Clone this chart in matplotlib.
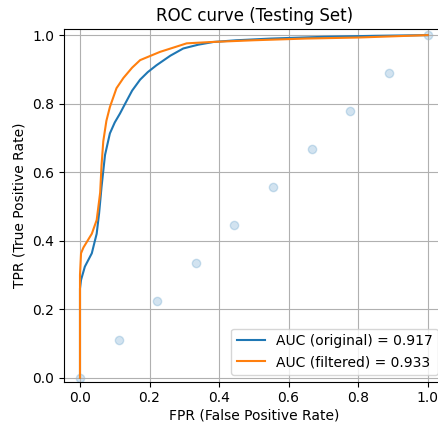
import numpy as np
import matplotlib
matplotlib.use("Agg")
import matplotlib.pyplot as plt

# ROC points
fpr_orig = [0.0, 0.0, 0.003, 0.014, 0.034, 0.043, 0.048, 0.055, 0.062, 0.072, 0.086,
            0.100, 0.115, 0.130, 0.150, 0.173, 0.195, 0.220, 0.260, 0.297, 0.340,
            0.384, 0.450, 0.550, 0.700, 0.850, 1.0]
tpr_orig = [0.0, 0.26, 0.285, 0.324, 0.363, 0.400, 0.420, 0.480, 0.557, 0.650, 0.713,
            0.745, 0.771, 0.800, 0.838, 0.870, 0.892, 0.912, 0.940, 0.961, 0.972,
            0.980, 0.985, 0.990, 0.995, 0.998, 1.0]

fpr_filt = [0.0, 0.0, 0.003, 0.010, 0.034, 0.048, 0.058, 0.062, 0.067, 0.076, 0.086,
            0.105, 0.125, 0.150, 0.173, 0.230, 0.307, 0.380, 0.500, 0.650, 0.800, 1.0]
tpr_filt = [0.0, 0.30, 0.363, 0.380, 0.420, 0.460, 0.540, 0.620, 0.690, 0.750, 0.790,
            0.845, 0.875, 0.905, 0.927, 0.951, 0.976, 0.980, 0.985, 0.990, 0.993, 1.0]

auc_orig = 0.917
auc_filt = 0.933

# chance-level reference points
diag = np.linspace(0, 1, 10)

fig = plt.figure(figsize=(4.39, 4.23), dpi=100)
ax = fig.add_axes([64 / 439, 41.3 / 423, (445 - 64) / 439, (381.7 - 29.3) / 423])

ax.plot(fpr_orig, tpr_orig, color="C0", lw=1.5, label=f"AUC (original) = {auc_orig:.3f}")
ax.plot(fpr_filt, tpr_filt, color="C1", lw=1.5, label=f"AUC (filtered) = {auc_filt:.3f}")
ax.scatter(diag, diag, color="C0", alpha=0.2, s=36)

ax.set_xlim(-0.046, 1.05)
ax.set_ylim(-0.012, 1.017)
ax.set_xticks([0.0, 0.2, 0.4, 0.6, 0.8, 1.0])
ax.set_yticks([0.0, 0.2, 0.4, 0.6, 0.8, 1.0])
ax.set_title("ROC curve (Testing Set)", fontsize=12)
ax.set_xlabel("FPR (False Positive Rate)", labelpad=2)
ax.set_ylabel("TPR (True Positive Rate)")
ax.grid()
ax.legend(loc="lower right")

fig.savefig("out.png", dpi=100)
